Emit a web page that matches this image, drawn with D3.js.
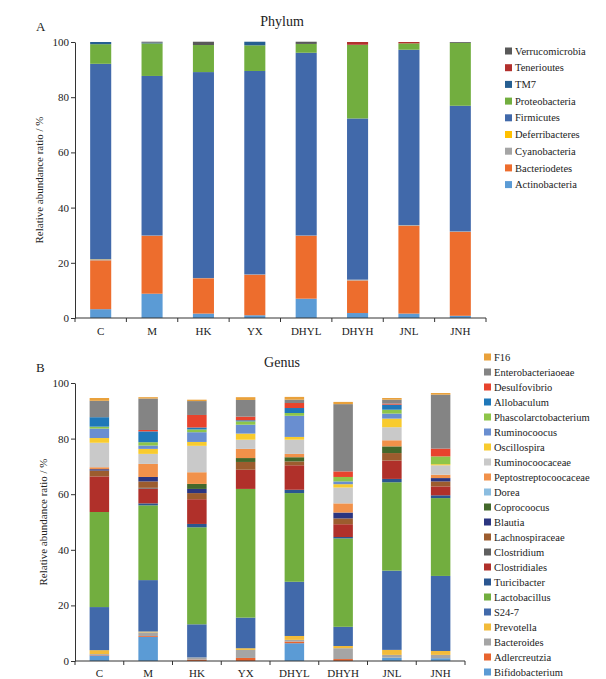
<!DOCTYPE html>
<html>
<head>
<meta charset="utf-8">
<script src="https://cdn.jsdelivr.net/npm/d3@7"></script>
<style>
body { margin: 0; background: #fff; }
text { font-family: "Liberation Serif", "Times New Roman", serif; fill: #222; }
.axis path, .axis line { stroke: #333; }
</style>
</head>
<body>
<div id="canvas"></div>
<script>
// sample groups
var groups = ["C", "M", "HK", "YX", "DHYL", "DHYH", "JNL", "JNH"];

// phylum level, bottom to top
var actinobacteria  = [3.2, 8.8, 1.6, 1.0, 7.0, 1.8, 1.6, 0.8];
var bacteriodetes   = [17.7, 21.0, 12.8, 14.7, 22.8, 11.8, 31.8, 30.4];
var cyanobacteria   = [0.3, 0.1, 0.1, 0.1, 0.1, 0.3, 0.3, 0.2];
var deferribacteres = [0.1, 0, 0, 0, 0, 0, 0, 0];
var firmicutes      = [70.8, 57.8, 74.6, 73.7, 66.2, 58.4, 63.5, 45.5];
var proteobacteria  = [7.1, 11.8, 9.8, 9.3, 3.2, 26.7, 2.3, 22.8];
var tm7             = [0.8, 0.3, 0, 1.3, 0, 0, 0, 0];
var tenerioutes     = [0, 0, 0, 0, 0, 1.0, 0.5, 0];
var verrucomicrobia = [0, 0.3, 1.2, 0, 0.8, 0, 0, 0.3];

var phylumNames = ["Actinobacteria", "Bacteriodetes", "Cyanobacteria", "Deferribacteres",
  "Firmicutes", "Proteobacteria", "TM7", "Tenerioutes", "Verrucomicrobia"];
var phylumValues = [actinobacteria, bacteriodetes, cyanobacteria, deferribacteres,
  firmicutes, proteobacteria, tm7, tenerioutes, verrucomicrobia];
var phylumColors = ["#5b9bd5", "#ed6d2d", "#a5a5a5", "#ffc000", "#4169aa",
  "#72ae3f", "#255e91", "#b2302d", "#595959"];

// genus level, bottom to top
var bifidobacterium       = [2.0, 8.7, 0, 0, 6.4, 0, 1.2, 1.0];
var adlercreutzia         = [0.2, 0.3, 0.5, 1.1, 0.6, 0.7, 0, 0];
var bacteroides           = [0.3, 1.3, 0.8, 2.9, 0.6, 3.9, 1.0, 1.2];
var prevotella            = [1.4, 0.3, 0, 0.6, 1.4, 0.8, 1.8, 1.4];
var s247                  = [15.5, 18.5, 11.9, 11.0, 19.5, 6.9, 28.5, 27.0];
var lactobacillus         = [34.2, 26.9, 34.9, 46.3, 31.9, 31.8, 31.8, 28.0];
var turicibacter          = [0, 0.7, 1.2, 0, 1.2, 0.5, 1.2, 1.0];
var clostridiales         = [12.8, 5.3, 8.9, 6.9, 8.8, 4.6, 6.6, 3.2];
var clostridium           = [0, 0.3, 0, 0, 0, 0, 0, 0];
var lachnospiraceae       = [2.1, 2.3, 2.2, 2.8, 1.4, 2.1, 2.7, 1.8];
var blautia               = [0.5, 1.6, 1.5, 0, 0, 2.1, 0, 1.2];
var coprococcus           = [0, 0, 1.8, 1.4, 1.5, 0, 2.4, 0];
var dorea                 = [0, 0, 0, 0, 0, 0, 0, 0];
var peptostreptococcaceae = [0.7, 4.7, 4.2, 3.3, 1.2, 3.3, 2.2, 1.2];
var ruminococcaceae       = [8.8, 3.6, 9.5, 3.3, 5.1, 5.7, 4.7, 3.4];
var oscillospira          = [1.7, 1.8, 1.4, 2.2, 1.0, 1.2, 3.1, 0.4];
var ruminococcus          = [3.4, 1.2, 3.5, 3.2, 7.6, 1.0, 1.8, 0];
var phascolarctobacterium = [0.7, 1.2, 1.0, 1.2, 1.0, 1.6, 1.4, 2.8];
var allobaculum           = [3.4, 3.9, 0.7, 0.4, 1.8, 0, 1.8, 0];
var desulfovibrio         = [0, 0.5, 4.5, 1.3, 1.8, 2.0, 0.4, 2.8];
var enterobacteriaoeae    = [5.9, 11.3, 5.0, 6.0, 1.2, 24.2, 1.4, 19.4];
var f16                   = [1.0, 0.5, 0.5, 1.0, 1.0, 0.8, 0.6, 0.6];

var genusNames = ["Bifidobacterium", "Adlercreutzia", "Bacteroides", "Prevotella", "S24-7",
  "Lactobacillus", "Turicibacter", "Clostridiales", "Clostridium", "Lachnospiraceae",
  "Blautia", "Coprocoocus", "Dorea", "Peptostreptocoocaceae", "Ruminocoocaceae",
  "Oscillospira", "Ruminocoocus", "Phascolarctobacterium", "Allobaculum",
  "Desulfovibrio", "Enterobacteriaoeae", "F16"];
var genusValues = [bifidobacterium, adlercreutzia, bacteroides, prevotella, s247,
  lactobacillus, turicibacter, clostridiales, clostridium, lachnospiraceae,
  blautia, coprococcus, dorea, peptostreptococcaceae, ruminococcaceae,
  oscillospira, ruminococcus, phascolarctobacterium, allobaculum,
  desulfovibrio, enterobacteriaoeae, f16];
var genusColors = ["#5b9bd5", "#e8642e", "#a5a5a5", "#f2bb3a", "#4169aa",
  "#72ae3f", "#2a5690", "#b0302a", "#5f5f5f", "#9c5c2e",
  "#2b3580", "#43682b", "#8bbde0", "#f1914a", "#c9c9c9",
  "#f8cb2e", "#698ed0", "#8ec549", "#1f78b9",
  "#e8432d", "#848484", "#e9a13b"];

var yTicks = [0, 20, 40, 60, 80, 100];

var svg = d3.select("#canvas").append("svg")
  .attr("width", 606)
  .attr("height", 679);

function drawPanel(opt) {
  var keys = opt.names;
  // build rows for d3.stack
  var rows = groups.map(function(gname, i) {
    var r = { group: gname };
    keys.forEach(function(k, j) { r[k] = opt.values[j][i]; });
    return r;
  });
  var series = d3.stack().keys(keys)(rows);

  var x = d3.scaleBand().domain(groups)
    .range([opt.left, opt.right])
    .paddingInner(opt.pad).paddingOuter(opt.pad / 2);
  var y = d3.scaleLinear().domain([0, 100]).range([opt.bottom, opt.top]);
  var color = d3.scaleOrdinal().domain(keys).range(opt.colors);

  var g = svg.append("g");

  g.selectAll(".layer")
    .data(series)
    .enter().append("g")
    .attr("fill", function(d) { return color(d.key); })
    .selectAll("rect")
    .data(function(d) { return d; })
    .enter().append("rect")
    .attr("x", function(d) { return x(d.data.group); })
    .attr("width", x.bandwidth())
    .attr("y", function(d) { return y(d[1]); })
    .attr("height", function(d) { return Math.max(0, y(d[0]) - y(d[1])); });

  // y axis
  g.append("g")
    .attr("class", "axis")
    .attr("transform", "translate(" + opt.left + ",0)")
    .call(d3.axisLeft(y).tickValues(yTicks).tickSize(4).tickSizeOuter(0).tickPadding(2))
    .call(function(a) {
      a.selectAll("text").style("font-family", "Liberation Serif").style("font-size", "11px").attr("fill", "#222");
    });

  // x axis: labels at centres, ticks at band edges
  var xa = g.append("g")
    .attr("class", "axis")
    .attr("transform", "translate(0," + opt.bottom + ")")
    .call(d3.axisBottom(x).tickSize(0).tickPadding(opt.labelPad))
    .call(function(a) {
      a.select(".domain").attr("d", "M" + opt.left + ",0H" + opt.right);
      a.selectAll("text").style("font-family", "Liberation Serif").style("font-size", "11px").attr("fill", "#222");
    });
  var edges = groups.map(function(gname) { return x(gname) - x.step() * opt.pad / 2; });
  edges.push(opt.right);
  xa.selectAll(".edge")
    .data(edges)
    .enter().append("line")
    .attr("x1", function(d) { return d; })
    .attr("x2", function(d) { return d; })
    .attr("y1", 0).attr("y2", 4)
    .attr("stroke", "#333");

  // titles
  svg.append("text")
    .attr("x", opt.titleX).attr("y", opt.titleY)
    .attr("text-anchor", "middle")
    .style("font-size", "14px")
    .text(opt.title);
  svg.append("text")
    .attr("x", opt.letterX).attr("y", opt.letterY)
    .style("font-size", "13px")
    .text(opt.letter);
  svg.append("text")
    .attr("transform", "translate(" + opt.yTitleX + "," + ((opt.top + opt.bottom) / 2) + ") rotate(-90)")
    .attr("text-anchor", "middle")
    .style("font-size", "11px")
    .text("Relative abundance ratio / %");

  // legend, top item = last series
  var leg = svg.append("g")
    .selectAll("g")
    .data(keys.slice().reverse())
    .enter().append("g")
    .attr("transform", function(d, i) {
      return "translate(" + opt.legX + "," + (opt.legY + i * opt.legStep) + ")";
    });
  leg.append("rect")
    .attr("x", 0).attr("y", -3.5)
    .attr("width", 7).attr("height", 7)
    .attr("fill", function(d) { return color(d); });
  leg.append("text")
    .attr("x", 10).attr("dy", "0.35em")
    .style("font-size", "10.5px")
    .text(function(d) { return d; });
}

drawPanel({
  names: phylumNames, values: phylumValues, colors: phylumColors,
  left: 75, right: 486, top: 42, bottom: 318, pad: 0.59, labelPad: 9,
  title: "Phylum", titleX: 282, titleY: 26,
  letter: "A", letterX: 36, letterY: 31,
  yTitleX: 43,
  legX: 505, legY: 51, legStep: 16.7
});

drawPanel({
  names: genusNames, values: genusValues, colors: genusColors,
  left: 75, right: 465, top: 383, bottom: 661, pad: 0.6, labelPad: 8,
  title: "Genus", titleX: 282, titleY: 367,
  letter: "B", letterX: 36, letterY: 372,
  yTitleX: 47,
  legX: 484, legY: 357, legStep: 15
});
</script>
</body>
</html>
